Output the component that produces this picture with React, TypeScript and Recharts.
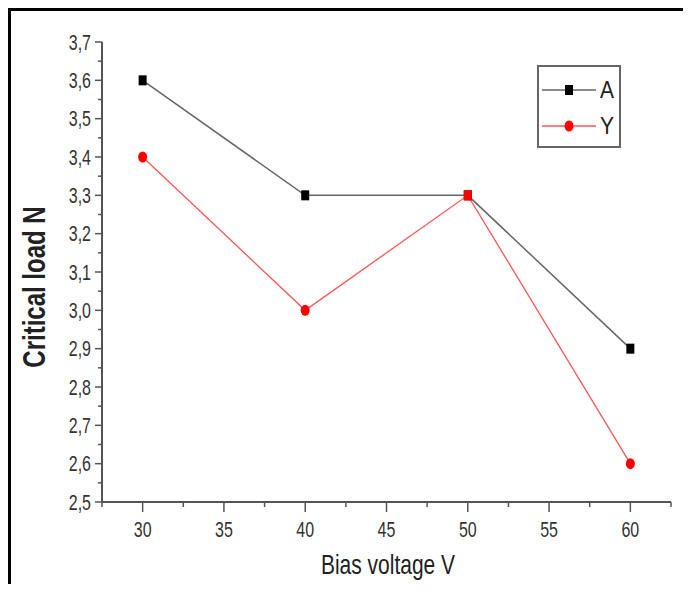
import React from 'react'
import { LineChart, Line, XAxis, YAxis, Legend, Label } from 'recharts'

const voltages = [30, 40, 50, 60]
const seriesA = [3.6, 3.3, 3.3, 2.9]
const seriesY = [3.4, 3.0, 3.3, 2.6]

const xTicks = [27.5, 30, 32.5, 35, 37.5, 40, 42.5, 45, 47.5, 50, 52.5, 55, 57.5, 60, 62.5]
const yTicks = [
    2.5, 2.55, 2.6, 2.65, 2.7, 2.75, 2.8, 2.85, 2.9, 2.95, 3.0, 3.05, 3.1,
    3.15, 3.2, 3.25, 3.3, 3.35, 3.4, 3.45, 3.5, 3.55, 3.6, 3.65, 3.7
]

const FONT = '"Liberation Sans", Arial, sans-serif'
const AXIS = '#555'

const data = voltages.map((v, i) => ({ v, a: seriesA[i], y: seriesY[i] }))

function XTick(props: any) {
    const { x, y, payload } = props
    const v = payload.value
    const major = v % 5 === 0
    return (
        <g>
            <line x1={x} y1={y} x2={x} y2={y + (major ? 10 : 5)} stroke={AXIS} strokeWidth={1.5} />
            {major && (
                <text transform={`translate(${x},${y + 35}) scale(1,1.35)`} textAnchor="middle"
                    fontSize={16} fontFamily={FONT} fill="#333">{v}</text>
            )}
        </g>
    )
}

function YTick(props: any) {
    const { x, y, payload } = props
    const v = payload.value
    const major = Math.round(v * 100) % 10 === 0
    return (
        <g>
            <line x1={x - (major ? 7 : 4)} y1={y} x2={x} y2={y} stroke={AXIS} strokeWidth={1.5} />
            {major && (
                <text transform={`translate(${x - 11},${y + 7.7}) scale(1,1.35)`} textAnchor="end"
                    fontSize={16} fontFamily={FONT} fill="#333">{v.toFixed(1).replace('.', ',')}</text>
            )}
        </g>
    )
}

const squareDot = (props: any) => {
    const { cx, cy, index } = props
    return <rect key={`a-${index}`} x={cx - 4} y={cy - 5} width={8} height={10} fill="#000" />
}

const circleDot = (props: any) => {
    const { cx, cy, index, payload } = props
    if (payload.a === payload.y) {
        return <rect key={`y-${index}`} x={cx - 4} y={cy - 5} width={8} height={10} fill="#ff0000" />
    }
    return <ellipse key={`y-${index}`} cx={cx} cy={cy} rx={4.5} ry={5.5} fill="#ff0000" />
}

const LegendBox = () => (
    <svg width={84} height={83} style={{ display: 'block' }}>
        <rect x={1} y={1} width={82} height={81} fill="#fff" stroke="#666" strokeWidth={2} />
        <line x1={5} y1={25} x2={59} y2={25} stroke="#666" strokeWidth={1.5} />
        <rect x={28} y={20} width={8} height={10} fill="#000" />
        <text transform="translate(63,33) scale(1,1.15)" fontSize={21} fontFamily={FONT} fill="#222">A</text>
        <line x1={5} y1={61} x2={59} y2={61} stroke="#ff5555" strokeWidth={1.3} />
        <ellipse cx={32} cy={61} rx={4.5} ry={5.5} fill="#ff0000" />
        <text transform="translate(63,69) scale(1,1.15)" fontSize={21} fontFamily={FONT} fill="#222">Y</text>
    </svg>
)

export default function App() {
    return (
        <div style={{
            width: 680, height: 573, borderLeft: '3px solid #000', borderTop: '3px solid #000',
            background: '#fff', overflow: 'hidden'
        }}>
            <LineChart width={680} height={573} data={data} margin={{ top: 31, right: 20, left: 0, bottom: 0 }}>
                <XAxis
                    type="number"
                    dataKey="v"
                    domain={[27.5, 62.5]}
                    ticks={xTicks}
                    interval={0}
                    height={82}
                    tickSize={0}
                    tickMargin={0}
                    tickLine={false}
                    tick={<XTick />}
                    axisLine={{ stroke: AXIS, strokeWidth: 2 }}
                >
                    <Label content={() => (
                        <text transform="translate(377,563) scale(1,1.35)" textAnchor="middle"
                            fontSize={21} fontFamily={FONT} fill="#222">Bias voltage V</text>
                    )} />
                </XAxis>
                <YAxis
                    type="number"
                    domain={[2.5, 3.7]}
                    ticks={yTicks}
                    interval={0}
                    width={91}
                    tickSize={0}
                    tickMargin={0}
                    tickLine={false}
                    tick={<YTick />}
                    axisLine={{ stroke: AXIS, strokeWidth: 2 }}
                >
                    <Label content={() => (
                        <text transform="translate(23,276) rotate(-90) scale(1,1.3)" y={8.5} textAnchor="middle"
                            fontSize={24} fontWeight="bold" fontFamily={FONT} fill="#222">Critical load N</text>
                    )} />
                </YAxis>
                <Legend
                    layout="horizontal"
                    align="center"
                    verticalAlign="middle"
                    content={() => <LegendBox />}
                    wrapperStyle={{ position: 'absolute', left: 526, top: 54, width: 84, height: 83 }}
                />
                <Line type="linear" dataKey="a" name="A" stroke="#666" strokeWidth={1.5}
                    dot={squareDot} activeDot={false} isAnimationActive={false} />
                <Line type="linear" dataKey="y" name="Y" stroke="#ff5555" strokeWidth={1.3}
                    dot={circleDot} activeDot={false} isAnimationActive={false} />
            </LineChart>
        </div>
    )
}
